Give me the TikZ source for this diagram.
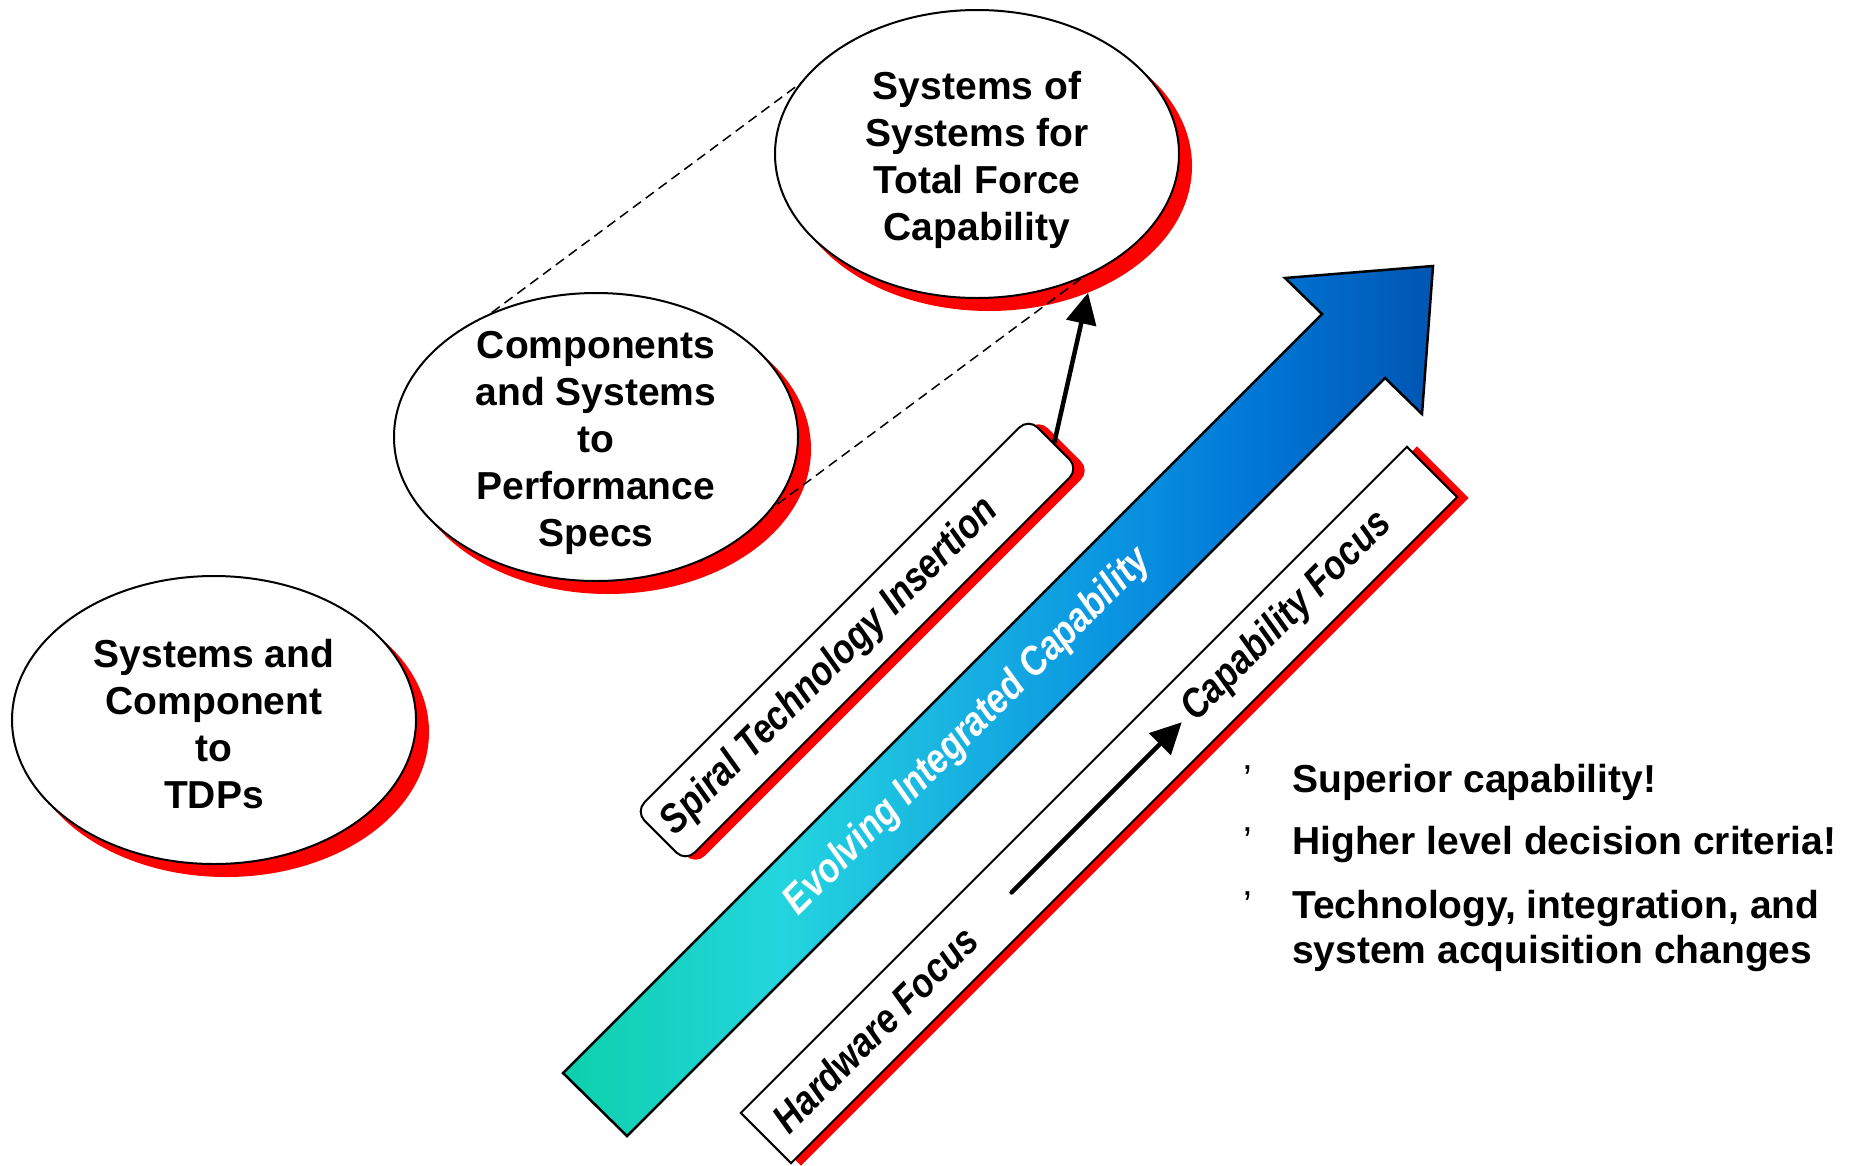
\documentclass[tikz,border=0pt]{standalone}
\usepackage{fontspec}
\setmainfont{Liberation Sans}
\usetikzlibrary{shapes.geometric,arrows.meta,calc}
\pgfdeclarelayer{shadowlayer}
\pgfdeclarelayer{linelayer}
\pgfsetlayers{shadowlayer,linelayer,main}
\definecolor{shRed}{RGB}{255,0,0}
\definecolor{gA}{RGB}{13,208,170}
\definecolor{gB}{RGB}{35,213,222}
\definecolor{gC}{RGB}{25,180,225}
\definecolor{gD}{RGB}{10,150,225}
\definecolor{gE}{RGB}{0,120,215}
\definecolor{gF}{RGB}{0,85,178}
\pgfdeclarehorizontalshading{arrowshade}{100bp}{color(0bp)=(gA); color(25bp)=(gA); color(37.5bp)=(gB); color(47bp)=(gC); color(56bp)=(gD); color(64.5bp)=(gE); color(75bp)=(gF); color(100bp)=(gF)}
\newcommand{\narrowtext}[1]{\scalebox{0.85}[1]{#1}}
\tikzset{
  bubble/.style={ellipse, draw=black, line width=2pt, fill=white, minimum width=404pt, minimum height=288pt, inner sep=0pt},
  bubbleshade/.style={ellipse, fill=shRed, minimum width=406pt, minimum height=290pt, inner sep=0pt},
  bubbletext/.style={align=center, inner sep=0pt, font=\fontsize{39}{47}\selectfont\bfseries},
  stbox/.style={rectangle, rounded corners=13pt, draw=black, line width=2pt, fill=white, minimum width=556pt, minimum height=71pt, inner sep=0pt, rotate=45},
  stshade/.style={rectangle, rounded corners=13pt, fill=shRed, minimum width=558pt, minimum height=73pt, inner sep=0pt, rotate=45},
  hwbox/.style={rectangle, draw=black, line width=2pt, fill=white, minimum width=942pt, minimum height=71pt, inner sep=0pt, rotate=45},
  hwshade/.style={rectangle, fill=shRed, minimum width=944pt, minimum height=73pt, inner sep=0pt, rotate=45},
  rottext/.style={inner sep=0pt, rotate=45, font=\fontsize{41}{48}\selectfont\bfseries\itshape},
  listtext/.style={inner sep=0pt, anchor=base west, font=\fontsize{39}{45}\selectfont\bfseries},
  listmark/.style={inner sep=0pt, anchor=base west, font=\fontsize{39}{45}\selectfont},
  dashline/.style={draw=black, line width=1.5pt, dash pattern=on 10pt off 6pt},
  bigarrow/.style={shading=arrowshade, draw=black, line width=2.5pt, line join=miter},
  pointer/.style={draw=black, line width=4.5pt, line cap=round, -{Triangle[length=31pt,width=30pt]}}
}
\begin{document}
\begin{tikzpicture}[x=1pt,y=-1pt]
\useasboundingbox (0,0) rectangle (1852,1165);

% ellipses
\node[bubble] (top) at (977,154) {};
\node[bubbletext] (toptext) at ([shift={(0,6)}]top.center) {Systems of\\Systems for\\Total Force\\Capability};
\node[bubble] (mid) at (596,437) {};
\node[bubbletext] (midtext) at ([shift={(0,6)}]mid.center) {Components\\and Systems\\to\\Performance\\Specs};
\node[bubble] (low) at (214,720) {};
\node[bubbletext] (lowtext) at ([shift={(0,4)}]low.center) {Systems and\\Component\\to\\TDPs};

\begin{pgfonlayer}{shadowlayer}
\node[bubbleshade] (topsh) at ([shift={(12,12)}]top.center) {};
\node[bubbleshade] (midsh) at ([shift={(12,12)}]mid.center) {};
\node[bubbleshade] (lowsh) at ([shift={(12,12)}]low.center) {};
\end{pgfonlayer}

\begin{pgfonlayer}{linelayer}
\draw[dashline] (mid.130) -- (top.130);
\draw[dashline] (mid.-50) -- (top.-50);
\end{pgfonlayer}

% spiral technology insertion box
\node[stshade] (spiralsh) at (867,642) {};
\node[stbox] (spiral) at (857,640) {};
\node[rottext] (spiraltext) at ($(spiral.west)!0.4317!(spiral.east)$) {\narrowtext{Spiral Technology Insertion}};
\draw[pointer, line cap=butt] (spiral.east) -- (topsh.-52);

% big arrow
\shadedraw[bigarrow] (563,1073) -- (1322,314) -- (1285,278) -- (1433,266) -- (1422,414) -- (1385,378) -- (627,1136) -- cycle;
\node[rottext, text=white] (evolve) at (968,732) {\narrowtext{Evolving Integrated Capability}};

% hardware / capability focus box
\node[hwshade] (hwsh) at (1109,806) {};
\node[hwbox] (hw) at (1099,805) {};
\node[rottext] (hwtext) at ($(hw.west)!0.1645!(hw.east)$) {\narrowtext{Hardware Focus}};
\node[rottext] (captext) at ($(hw.west)!0.782!(hw.east)$) {\narrowtext{Capability Focus}};
\coordinate (hwa) at ($(hw.west)!0.369!(hw.east)$);
\coordinate (hwb) at ($(hw.west)!0.624!(hw.east)$);
\draw[pointer] (hwa) -- (hwb);

% bullet list
\node[listmark] (m1) at (1243,792) {’};
\node[listtext] (b1) at (1292,792) {Superior capability!};
\node[listmark] (m2) at (1243,854) {’};
\node[listtext] (b2) at (1292,854) {Higher level decision criteria!};
\node[listmark] (m3) at (1243,918) {’};
\node[listtext] (b3) at (1292,918) {Technology, integration, and};
\node[listtext] (b3b) at (1292,963) {system acquisition changes};
\end{tikzpicture}
\end{document}
